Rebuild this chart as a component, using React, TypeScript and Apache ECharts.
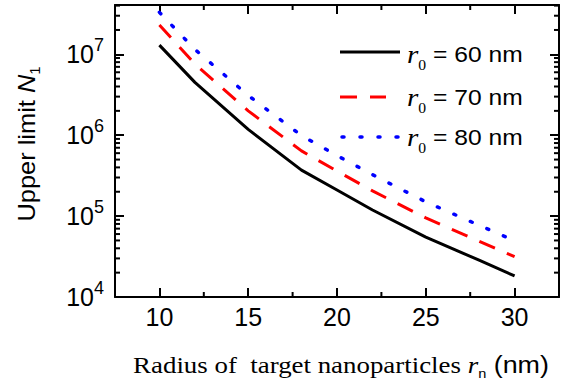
import React, { useEffect, useRef } from "react";
import * as echarts from "echarts";

// ---- data ----
const radii = [10, 12, 15, 18, 20, 22, 25, 28, 30];
const n60 = [1.3e7, 4.5e6, 1.18e6, 3.7e5, 2.1e5, 1.19e5, 5.5e4, 2.85e4, 1.82e4];
const n70 = [2.3e7, 7.6e6, 2.0e6, 6.4e5, 3.6e5, 2.05e5, 9.5e4, 4.9e4, 3.15e4];
const n80 = [3.3e7, 1.15e7, 3.1e6, 9.9e5, 5.6e5, 3.25e5, 1.5e5, 7.7e4, 4.95e4];
const seriesNames = ["60", "70", "80"];
const xMinorTicks = [12.5, 17.5, 22.5, 27.5];
const yDecades = [1e4, 1e5, 1e6, 1e7];
const yMinorMultipliers = [2, 3, 4, 5, 6, 7, 8, 9];

const X_MIN = 7.5;
const X_MAX = 32.5;
const Y_MIN = 1e4;
const Y_MAX = 4.07e7;

const SANS = "'Liberation Sans', Arial, sans-serif";
const SERIF = "'Liberation Serif', 'Times New Roman', serif";

const yMinorTicks: number[] = [];
yDecades.forEach((d) => yMinorMultipliers.forEach((m) => { if (m * d < Y_MAX) yMinorTicks.push(m * d); }));

const pairs = (ys: number[]) => radii.map((x, i) => [x, ys[i]]);

export default function App() {
  const ref = useRef<HTMLDivElement>(null);
  useEffect(() => {
    if (!ref.current) return;
    const chart = echarts.init(ref.current, undefined, { renderer: "svg" });
    const axisLine = { show: true, lineStyle: { color: "#000", width: 2 } };
    const majorTick = { show: true, inside: true, length: 9, lineStyle: { color: "#000", width: 2 } };
    const minorLen = 5;

    const legendRows = [
      { y: 54, ly: 52, color: "#000000", dash: undefined as any, cap: "butt", w: 3, x1: 340, x2: 400, label: seriesNames[0] },
      { y: 97, ly: 97, color: "#ff0000", dash: [17, 13], cap: "butt", w: 3, x1: 340, x2: 386, label: seriesNames[1] },
      { y: 137, ly: 137, color: "#0000ff", dash: [2, 16], cap: "round", w: 3.5, x1: 342, x2: 399, label: seriesNames[2] },
    ];

    const graphic: any[] = [];
    legendRows.forEach((r) => {
      graphic.push({
        type: "line",
        shape: { x1: r.x1, y1: r.ly, x2: r.x2, y2: r.ly },
        style: { stroke: r.color, lineWidth: r.w, lineDash: r.dash, lineCap: r.cap },
        silent: true,
      });
      graphic.push({
        type: "text",
        x: 407,
        y: r.y,
        scaleX: 1.12,
        style: {
          text: `{r|r}{s|0}{t| = ${r.label} nm}`,
          align: "left",
          verticalAlign: "middle",
          rich: {
            r: { fontFamily: SERIF, fontStyle: "italic", fontSize: 26, lineHeight: 36, fill: "#000" },
            s: { fontFamily: SERIF, fontSize: 14, lineHeight: 12, verticalAlign: "bottom", fill: "#000" },
            t: { fontFamily: SANS, fontSize: 22, lineHeight: 36, fill: "#000" },
          },
        },
        silent: true,
      });
    });
    // x axis title
    graphic.push({
      type: "text",
      x: 341,
      y: 365,
      scaleX: 1.12,
      style: {
        text: "{a|Radius of  target nanoparticles }{r|r}{s|n}{b| (nm)}",
        align: "center",
        verticalAlign: "middle",
        rich: {
          a: { fontFamily: SERIF, fontSize: 24, lineHeight: 30, fill: "#000" },
          r: { fontFamily: SERIF, fontStyle: "italic", fontSize: 24, lineHeight: 30, fill: "#000" },
          s: { fontFamily: SANS, fontSize: 13, lineHeight: 11, verticalAlign: "bottom", fill: "#000" },
          b: { fontFamily: SANS, fontSize: 24, lineHeight: 30, fill: "#000" },
        },
      },
      silent: true,
    });
    // y axis title
    graphic.push({
      type: "text",
      x: 27,
      y: 144,
      rotation: Math.PI / 2,
      scaleX: 1.06,
      style: {
        text: "{a|Upper limit }{n|N}{s|1}",
        align: "center",
        verticalAlign: "middle",
        rich: {
          a: { fontFamily: SANS, fontSize: 24, lineHeight: 30, fill: "#000" },
          n: { fontFamily: SANS, fontStyle: "italic", fontSize: 24, lineHeight: 30, fill: "#000" },
          s: { fontFamily: SANS, fontSize: 14, lineHeight: 12, verticalAlign: "bottom", fill: "#000" },
        },
      },
      silent: true,
    });

    const isDecade = (v: number) => Math.abs(Math.log10(v) - Math.round(Math.log10(v))) < 1e-6;

    chart.setOption({
      animation: false,
      backgroundColor: "#ffffff",
      grid: { left: 115, right: 12, top: 5, bottom: 91, containLabel: false },
      xAxis: [
        {
          type: "value",
          min: X_MIN,
          max: X_MAX,
          position: "bottom",
          axisLine,
          axisTick: majorTick,
          splitLine: { show: false },
          axisLabel: {
            show: true,
            margin: 7,
            color: "#000",
            fontFamily: SANS,
            fontSize: 25,
            formatter: (v: number) => (Math.abs(v % 5) < 1e-9 ? String(v) : ""),
          },
        },
        {
          type: "value",
          min: X_MIN,
          max: X_MAX,
          position: "top",
          axisLine,
          axisTick: majorTick,
          splitLine: { show: false },
          axisLabel: { show: false },
        },
      ],
      yAxis: [
        {
          type: "log",
          logBase: 10,
          min: Y_MIN,
          max: Y_MAX,
          position: "left",
          axisLine,
          axisTick: majorTick,
          splitLine: { show: false },
          axisLabel: {
            show: true,
            margin: 11,
            formatter: (v: number) => (isDecade(v) ? `{b|10}{s|${Math.round(Math.log10(v))}}` : ""),
            rich: {
              b: { fontFamily: SANS, fontSize: 25, lineHeight: 36, color: "#000" },
              s: { fontFamily: SANS, fontSize: 18, lineHeight: 17, verticalAlign: "top", color: "#000" },
            },
          },
        },
        {
          type: "log",
          logBase: 10,
          min: Y_MIN,
          max: Y_MAX,
          position: "right",
          axisLine,
          axisTick: majorTick,
          splitLine: { show: false },
          axisLabel: { show: false },
        },
      ],
      series: [
        {
          type: "line",
          data: pairs(n60),
          symbol: "none",
          lineStyle: { color: "#000000", width: 3, type: "solid", join: "round" },
          z: 5,
        },
        {
          type: "line",
          data: pairs(n70),
          symbol: "none",
          lineStyle: { color: "#ff0000", width: 3, type: [17, 13], join: "round" },
          z: 5,
        },
        {
          type: "line",
          data: pairs(n80),
          symbol: "none",
          lineStyle: { color: "#0000ff", width: 3.5, type: [2, 16], cap: "round", join: "round" },
          z: 5,
        },
        {
          type: "custom",
          silent: true,
          data: yMinorTicks.map((v) => [X_MIN, v]),
          encode: { x: 0, y: 1 },
          renderItem: (params: any, api: any) => {
            const cs = params.coordSys;
            const p = api.coord([X_MIN, api.value(1)]);
            const st = { stroke: "#000", lineWidth: 2 };
            return {
              type: "group",
              children: [
                { type: "line", shape: { x1: cs.x, y1: p[1], x2: cs.x + minorLen, y2: p[1] }, style: st },
                { type: "line", shape: { x1: cs.x + cs.width - minorLen, y1: p[1], x2: cs.x + cs.width, y2: p[1] }, style: st },
              ],
            };
          },
        },
        {
          type: "custom",
          silent: true,
          data: xMinorTicks.map((v) => [v, Y_MIN]),
          encode: { x: 0, y: 1 },
          renderItem: (params: any, api: any) => {
            const cs = params.coordSys;
            const p = api.coord([api.value(0), Y_MIN]);
            const st = { stroke: "#000", lineWidth: 2 };
            return {
              type: "group",
              children: [
                { type: "line", shape: { x1: p[0], y1: cs.y + cs.height, x2: p[0], y2: cs.y + cs.height - minorLen }, style: st },
                { type: "line", shape: { x1: p[0], y1: cs.y, x2: p[0], y2: cs.y + minorLen }, style: st },
              ],
            };
          },
        },
      ],
      graphic,
    });
    return () => chart.dispose();
  }, []);
  return (
    <div
      ref={ref}
      style={{ position: "fixed", left: 0, top: 0, width: 571, height: 388, background: "#fff" }}
    />
  );
}
